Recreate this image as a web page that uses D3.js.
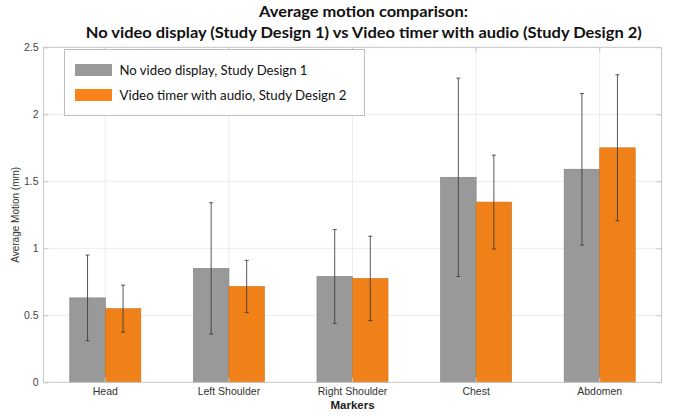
<!DOCTYPE html>
<html>
<head>
<meta charset="utf-8">
<script src="https://cdn.jsdelivr.net/npm/d3@7"></script>
<style>
  html, body { margin: 0; padding: 0; background: #fff; }
  svg { display: block; }
</style>
</head>
<body>
<svg id="chart" width="675" height="416"></svg>
<script>
// Marker locations and mean motion (mm) with standard deviations
const categories = ["Head", "Left Shoulder", "Right Shoulder", "Chest", "Abdomen"];
const seriesNames = ["No video display, Study Design 1", "Video timer with audio, Study Design 2"];
const design1 = [0.63, 0.85, 0.79, 1.53, 1.59];
const design1Sd = [0.32, 0.49, 0.35, 0.74, 0.565];
const design2 = [0.55, 0.715, 0.775, 1.345, 1.75];
const design2Sd = [0.175, 0.195, 0.315, 0.35, 0.545];
const yTicks = [0, 0.5, 1, 1.5, 2, 2.5];
const titleLines = ["Average motion comparison:",
  "No video display (Study Design 1) vs Video timer with audio (Study Design 2)"];

const colors = ["#999999", "#F08119"];
const legendColors = ["#999999", "#FA8419"];

const svg = d3.select("#chart");
const plot = { left: 43.5, right: 661.5, top: 47.3, bottom: 382.3 };

const x = d3.scaleBand().domain(categories).range([plot.left, plot.right]).padding(0);
const groupW = x.bandwidth() * 0.575;
const xInner = d3.scaleBand().domain([0, 1]).range([-groupW / 2, groupW / 2]).padding(0);
const y = d3.scaleLinear().domain([0, 2.5]).range([plot.bottom, plot.top]);

const rows = categories.map((c, i) => ({
  cat: c,
  vals: [
    { s: 0, v: design1[i], sd: design1Sd[i] },
    { s: 1, v: design2[i], sd: design2Sd[i] }
  ]
}));

const labelFont = "10.5px 'Liberation Sans', Arial, sans-serif";

// grid lines
const grid = svg.append("g");
grid.selectAll("line.h").data(yTicks.slice(1, -1)).join("line")
  .attr("x1", plot.left).attr("x2", plot.right)
  .attr("y1", d => y(d)).attr("y2", d => y(d))
  .attr("stroke", "#ececec").attr("stroke-width", 1);
grid.selectAll("line.v").data(categories).join("line")
  .attr("x1", d => x(d) + x.bandwidth() / 2).attr("x2", d => x(d) + x.bandwidth() / 2)
  .attr("y1", plot.top).attr("y2", plot.bottom)
  .attr("stroke", "#ececec").attr("stroke-width", 1);

// bars
const groups = svg.append("g").selectAll("g").data(rows).join("g")
  .attr("transform", d => `translate(${x(d.cat) + x.bandwidth() / 2},0)`);
groups.selectAll("rect").data(d => d.vals).join("rect")
  .attr("x", d => xInner(d.s))
  .attr("y", d => y(d.v))
  .attr("width", xInner.bandwidth())
  .attr("height", d => y(0) - y(d.v))
  .attr("fill", d => colors[d.s])
  .attr("stroke", d => d.s === 0 ? "#7f7f7f" : "#c9731f")
  .attr("stroke-width", 0.6);

// error bars
const eb = groups.selectAll("g.err").data(d => d.vals).join("g")
  .attr("class", "err")
  .attr("transform", d => `translate(${xInner(d.s) + xInner.bandwidth() / 2},0)`)
  .attr("stroke", "#3a3a3a").attr("stroke-opacity", 0.85).attr("stroke-width", 1);
eb.append("line").attr("x1", 0).attr("x2", 0)
  .attr("y1", d => y(d.v + d.sd)).attr("y2", d => y(d.v - d.sd));
eb.append("line").attr("x1", -2).attr("x2", 2)
  .attr("y1", d => y(d.v + d.sd)).attr("y2", d => y(d.v + d.sd));
eb.append("line").attr("x1", -2).attr("x2", 2)
  .attr("y1", d => y(d.v - d.sd)).attr("y2", d => y(d.v - d.sd));

// axes box
const axisColor = "#c6c6c6";
svg.append("rect")
  .attr("x", plot.left).attr("y", plot.top)
  .attr("width", plot.right - plot.left).attr("height", plot.bottom - plot.top)
  .attr("fill", "none").attr("stroke", axisColor).attr("stroke-width", 1);

// left / right y axes with inward ticks
const yAxisL = d3.axisLeft(y).tickValues(yTicks).tickSizeInner(-5).tickSizeOuter(0).tickPadding(5)
  .tickFormat(d => d3.format("")(d));
const gL = svg.append("g").attr("transform", `translate(${plot.left},0)`).call(yAxisL);
gL.select(".domain").remove();
gL.selectAll(".tick line").attr("stroke", axisColor);
gL.selectAll(".tick text").attr("fill", "#444").style("font", labelFont);

const yAxisR = d3.axisRight(y).tickValues(yTicks).tickSizeInner(-5).tickSizeOuter(0).tickFormat("");
const gR = svg.append("g").attr("transform", `translate(${plot.right},0)`).call(yAxisR);
gR.select(".domain").remove();
gR.selectAll(".tick line").attr("stroke", axisColor);

// bottom / top x axes
const xAxisB = d3.axisBottom(x).tickSizeInner(-5).tickSizeOuter(0).tickPadding(5);
const gB = svg.append("g").attr("transform", `translate(0,${plot.bottom})`).call(xAxisB);
gB.select(".domain").remove();
gB.selectAll(".tick line").attr("stroke", axisColor);
gB.selectAll(".tick text").attr("fill", "#333").style("font", labelFont);

const xAxisT = d3.axisTop(x).tickSizeInner(-5).tickSizeOuter(0).tickFormat("");
const gT = svg.append("g").attr("transform", `translate(0,${plot.top})`).call(xAxisT);
gT.select(".domain").remove();
gT.selectAll(".tick line").attr("stroke", axisColor);

// axis titles
svg.append("text")
  .attr("x", (plot.left + plot.right) / 2).attr("y", 409)
  .attr("text-anchor", "middle")
  .style("font", "bold 11.5px 'Liberation Sans', Arial, sans-serif")
  .attr("fill", "#222").text("Markers");
svg.append("text")
  .attr("transform", `translate(19,${(plot.top + plot.bottom) / 2}) rotate(-90)`)
  .attr("text-anchor", "middle")
  .style("font", "10px 'Liberation Sans', Arial, sans-serif")
  .attr("fill", "#333").text("Average Motion (mm)");

// title
const titleFont = "bold 15px Lato, 'Liberation Sans', sans-serif";
svg.append("text").attr("x", 363.5).attr("y", 17).attr("text-anchor", "middle")
  .style("font", titleFont).attr("fill", "#111")
  .attr("textLength", 209).attr("lengthAdjust", "spacingAndGlyphs")
  .text(titleLines[0]);
svg.append("text").attr("x", 363.8).attr("y", 38).attr("text-anchor", "middle")
  .style("font", titleFont).attr("fill", "#111")
  .attr("textLength", 556).attr("lengthAdjust", "spacingAndGlyphs")
  .text(titleLines[1]);

// legend
const legend = svg.append("g");
legend.append("rect")
  .attr("x", 64.5).attr("y", 49.5).attr("width", 300).attr("height", 66)
  .attr("fill", "#fff").attr("stroke", "#bdbdbd").attr("stroke-width", 1);
const legendTextLen = [188, 227];
seriesNames.forEach((name, i) => {
  const cy = 70 + i * 25;
  legend.append("rect")
    .attr("x", 75).attr("y", cy - 6).attr("width", 37).attr("height", 12)
    .attr("fill", legendColors[i]);
  legend.append("text")
    .attr("x", 119.5).attr("y", cy + 5)
    .style("font", "14px Lato, 'Liberation Sans', sans-serif")
    .attr("fill", "#111")
    .attr("textLength", legendTextLen[i]).attr("lengthAdjust", "spacingAndGlyphs")
    .text(name);
});
</script>
</body>
</html>
